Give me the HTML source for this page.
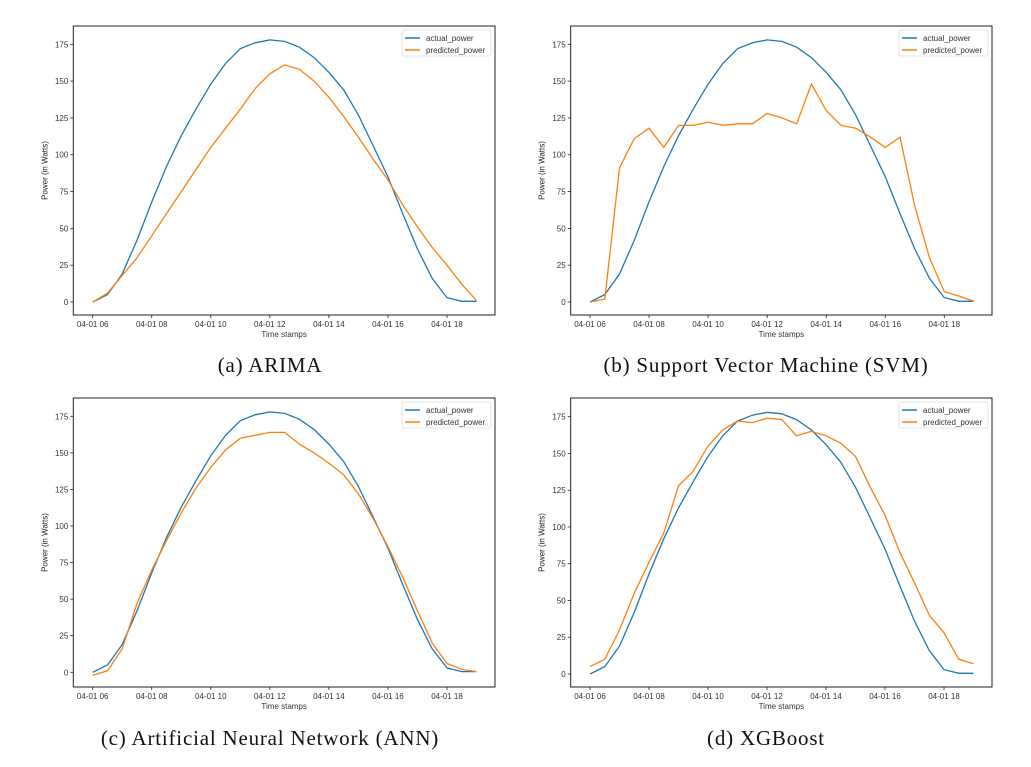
<!DOCTYPE html>
<html><head><meta charset="utf-8"><style>
body{margin:0;background:#fff;width:1031px;height:767px;overflow:hidden}
svg{position:absolute;left:0;top:0}
.cap{position:absolute;font-family:"Liberation Serif",serif;font-size:21px;letter-spacing:0.8px;color:#111;white-space:nowrap;transform:translateX(-50%)}
</style></head><body>
<svg id="chart" width="1031" height="767"></svg>
<div class="cap" style="left:270px;top:353px">(a) ARIMA</div>
<div class="cap" style="left:766px;top:353px">(b) Support Vector Machine (SVM)</div>
<div class="cap" style="left:270px;top:726px">(c) Artificial Neural Network (ANN)</div>
<div class="cap" style="left:766px;top:726px">(d) XGBoost</div>
<script>
const hours = [6,6.5,7,7.5,8,8.5,9,9.5,10,10.5,11,11.5,12,12.5,13,13.5,14,14.5,15,15.5,16,16.5,17,17.5,18,18.5,19];
const xTicks = [6,8,10,12,14,16,18];
const xTickLabels = ["04-01 06","04-01 08","04-01 10","04-01 12","04-01 14","04-01 16","04-01 18"];
const yTicks = [0,25,50,75,100,125,150,175];
const actualPower = [0,5,19,42,68,92,113,131,148,162,172,176,178,177,173,166,156,144,127,106,85,60,36,16,3,0.5,0.5];
const arimaPred = [0,6,18,30,45,60,75,90,105,118,131,145,155,161,158,150,139,126,112,97,83,66,51,37,25,12,1];
const svmPred = [0,2,91,111,118,105,120,120,122,120,121,121,128,125,121,148,130,120,118,112,105,112,65,30,7,4,0.5];
const annPred = [-2,1,16,47,70,90,109,126,140,152,160,162,164,164,156,150,143,135,122,105,86,65,42,20,6,2,0.5];
const xgbPred = [5,10,30,55,76,96,128,138,155,166,172,171,174,173,162,165,162,157,148,127,108,83,62,40,28,10,7];

const NS="http://www.w3.org/2000/svg";
const svg=document.getElementById('chart');
function mk(tag,attrs,parent){const e=document.createElementNS(NS,tag);for(const k in attrs)e.setAttribute(k,attrs[k]);(parent||svg).appendChild(e);return e;}

const panels=[
 {id:'a',L:73.3,R:495,T:26,B:315,x6:92.7,x18:447,y0:302,y175:44.3,pred:arimaPred},
 {id:'b',L:570.7,R:992,T:26,B:315,x6:590,x18:944.3,y0:302,y175:44.3,pred:svmPred},
 {id:'c',L:73.3,R:495,T:398,B:687,x6:92.7,x18:447,y0:672.3,y175:416.3,pred:annPred},
 {id:'d',L:570.7,R:992,T:398,B:687,x6:590,x18:944,y0:674,y175:416.7,pred:xgbPred}
];
const font='"Liberation Sans", sans-serif';
panels.forEach(p=>{
  const g=mk('g',{});
  
  
  const xs=h=>p.x6+(h-6)*(p.x18-p.x6)/12;
  const ys=v=>p.y0+v*(p.y175-p.y0)/175;
  const frame=mk('rect',{x:p.L,y:p.T,width:p.R-p.L,height:p.B-p.T,fill:'none',stroke:'#222','stroke-width':1},g);
  
  
  yTicks.forEach(v=>{
    const y=ys(v);
    mk('line',{x1:p.L-3,x2:p.L,y1:y,y2:y,stroke:'#222','stroke-width':0.8},g);
    const t=mk('text',{x:p.L-5,y:y+3,'font-size':8,'font-family':font,'text-anchor':'end',fill:'#333'},g);
    t.textContent=v;
    
    
  });
  xTicks.forEach((h,i)=>{
    const x=xs(h);
    mk('line',{x1:x,x2:x,y1:p.B,y2:p.B+3,stroke:'#222','stroke-width':0.8},g);
    const t=mk('text',{x:x,y:p.B+12,'font-size':8,'font-family':font,'text-anchor':'middle',fill:'#333'},g);
    t.textContent=xTickLabels[i];
    
    
  });
  const xt=mk('text',{x:(p.L+p.R)/2,y:p.B+22,'font-size':8,'font-family':font,'text-anchor':'middle',fill:'#333'},g);
  xt.textContent='Time stamps';
  
  
  const yx=p.L-26, yy=(p.T+p.B)/2;
  const yt=mk('text',{x:yx,y:yy,'font-size':8,'font-family':font,'text-anchor':'middle',fill:'#222',transform:`rotate(-90 ${yx} ${yy})`},g);
  yt.textContent='Power (in Watts)';
  
  
  const pts=arr=>arr.map((v,i)=>xs(hours[i]).toFixed(1)+','+ys(v).toFixed(1)).join(' ');
  const a=mk('polyline',{points:pts(actualPower),fill:'none',stroke:'#1f77b4','stroke-width':1.3},g);
  
  
  const pr=mk('polyline',{points:pts(p.pred),fill:'none',stroke:'#ff7f0e','stroke-width':1.3},g);
  
  
  const lx=p.R-93, ly=p.T+4;
  const lg=mk('g',{},g);
  
  
  mk('rect',{x:lx,y:ly,width:89,height:26,fill:'#fff',stroke:'#ddd','stroke-width':0.8,rx:2},lg);
  [['actual_power','#1f77b4'],['predicted_power','#ff7f0e']].forEach((e,i)=>{
    const yy2=ly+8+i*12;
    mk('line',{x1:lx+3,x2:lx+18,y1:yy2,y2:yy2,stroke:e[1],'stroke-width':1.5},lg);
    const t=mk('text',{x:lx+24,y:yy2+3,'font-size':8,'font-family':font,fill:'#333'},lg);
    t.textContent=e[0];
    
    
  });
});
</script>
</body></html>
